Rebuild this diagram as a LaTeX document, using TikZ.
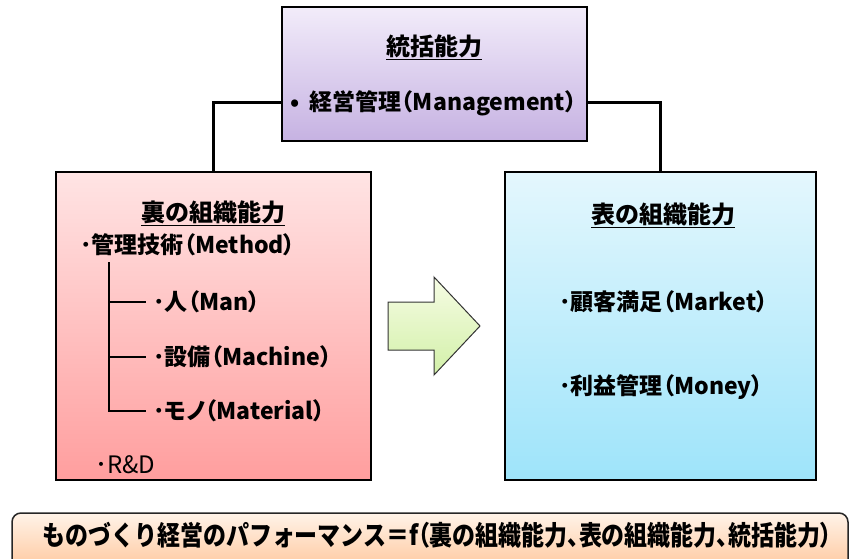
\documentclass[tikz,border=0pt]{standalone}
\usepackage{fontspec}
\setmainfont{Noto Sans CJK JP}
\newfontfamily\paltfont{Noto Sans CJK JP}[RawFeature=+palt]
\usepackage{graphicx}
\newcommand{\pp}[1]{{\paltfont #1}}
\definecolor{topA}{HTML}{F2ECFA}
\definecolor{topB}{HTML}{C6B2E2}
\definecolor{leftA}{HTML}{FFE4E4}
\definecolor{leftB}{HTML}{FF9E9E}
\definecolor{rightA}{HTML}{E4F7FD}
\definecolor{rightB}{HTML}{9EE4FA}
\definecolor{arrA}{HTML}{F6FCE4}
\definecolor{arrB}{HTML}{D2F0A8}
\definecolor{barA}{HTML}{FFF3E8}
\definecolor{barB}{HTML}{FFB883}
\tikzset{
  box/.style={draw=black, line width=1.5pt, inner sep=0pt},
  conn/.style={draw=black, line width=3pt},
  treeline/.style={draw=black, line width=2.4pt},
  ttl/.style={font=\fontsize{24}{26}\selectfont\bfseries, inner sep=0pt},
  itm/.style={font=\fontsize{23}{26}\selectfont\paltfont\bfseries, inner sep=0pt, anchor=west},
}
\begin{document}
\begin{tikzpicture}[x=1pt,y=-1pt]
\useasboundingbox (0,0) rectangle (859,559);
% boxes
\node[box, top color=topA, bottom color=topB, minimum width=305pt, minimum height=134pt] (topbox) at (434.5,74) {};
\node[box, top color=leftA, bottom color=leftB, minimum width=315pt, minimum height=308pt] (leftbox) at (213.5,326) {};
\node[box, top color=rightA, bottom color=rightB, minimum width=311pt, minimum height=308pt] (rightbox) at (660.5,326) {};
% top texts
\node[ttl] (toptitle) at (434,47) {\underline{統括能力}};
\node[itm] (mgmt) at (290,103) {•\hspace{10pt}経営管理（Management）};
% connectors
\draw[conn] (topbox.west |- mgmt) -| (leftbox.north);
\draw[conn] (topbox.east |- mgmt) -| (rightbox.north);
% left texts
\node[ttl] (lefttitle) at (213,213) {\underline{裏の組織能力}};
\node[itm] (method) at (80,245) {･管理技術（Method）};
\node[itm] (man) at (153,302) {･人（Man）};
\node[itm] (mach) at (153,357) {･設備（Machine）};
\node[itm] (mat) at (153,411) {･モノ（Material）};
\node[itm, font=\fontsize{24}{26}\selectfont\paltfont] (rd) at (95,465) {･R\&D};
\coordinate (treetop) at (109,262);
\coordinate (b1) at (146,302);
\coordinate (b2) at (146,357);
\coordinate (b3) at (146,411);
\draw[treeline] (treetop) |- (b3);
\draw[treeline] (treetop |- b1) -- (b1);
\draw[treeline] (treetop |- b2) -- (b2);
% right texts
\node[ttl] (righttitle) at (663,215) {\underline{表の組織能力}};
\node[itm] (market) at (559,302) {･顧客満足（Market）};
\node[itm] (money) at (559,387) {･利益管理（Money）};
% arrow
\draw[draw=black!80, line width=1pt, top color=arrA, bottom color=arrB]
  (388,302) -- (434,302) -- (434,277) -- (480,326) -- (434,375) -- (434,350) -- (388,350) -- cycle;
% bottom bar
\draw[draw=black!85, line width=1.5pt, rounded corners=9pt, top color=barA, bottom color=barB]
  (12,513) rectangle (848,590);
\node[inner sep=0pt] (bartext) at (437,535) {\scalebox{0.85}[1]{\fontsize{27}{30}\selectfont\bfseries ものづくり経営のパフォーマンス＝f\pp{（}裏の組織能力\pp{、}表の組織能力\pp{、}統括能力\pp{）}}};
\end{tikzpicture}
\end{document}
